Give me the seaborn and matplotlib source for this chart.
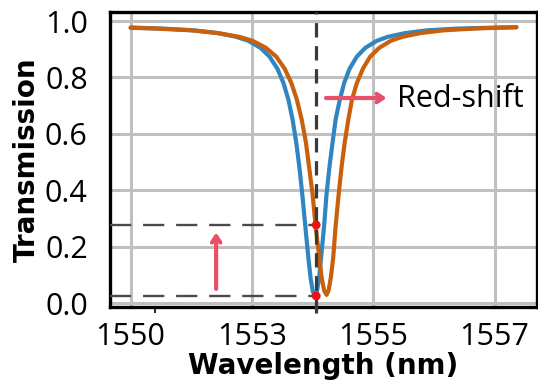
import numpy as np
import pandas as pd
import matplotlib
matplotlib.use("Agg")
import matplotlib.pyplot as plt
import seaborn as sns

# ---- data ----
blue_wl = [1551.0, 1551.54, 1552.04, 1552.44, 1552.74, 1552.94, 1553.14, 1553.29,
           1553.42, 1553.52, 1553.60, 1553.67, 1553.73, 1553.78, 1553.83, 1553.88,
           1553.93, 1553.97, 1554.005, 1554.04,
           1554.07, 1554.105, 1554.14, 1554.19, 1554.23, 1554.28, 1554.33, 1554.38,
           1554.45, 1554.52, 1554.61, 1554.73, 1554.87, 1555.06, 1555.24, 1555.52,
           1555.89, 1556.36, 1556.90, 1557.36]
blue_T = [0.977, 0.973, 0.967, 0.957, 0.944, 0.930, 0.905, 0.874,
          0.831, 0.780, 0.722, 0.651, 0.570, 0.486, 0.386, 0.273,
          0.161, 0.084, 0.040, 0.024,
          0.040, 0.084, 0.161, 0.273, 0.386, 0.486, 0.570, 0.651,
          0.722, 0.780, 0.831, 0.874, 0.905, 0.930, 0.944, 0.957,
          0.967, 0.973, 0.976, 0.978]

orange_wl = [1551.0, 1551.45, 1552.01, 1552.45, 1552.79, 1553.01, 1553.23, 1553.40,
             1553.54, 1553.65, 1553.74, 1553.82, 1553.89, 1553.94, 1554.00, 1554.05,
             1554.11, 1554.15, 1554.19, 1554.23,
             1554.264, 1554.30, 1554.34, 1554.38, 1554.43, 1554.48, 1554.53, 1554.59,
             1554.65, 1554.73, 1554.83, 1554.95, 1555.10, 1555.29, 1555.48, 1555.77,
             1556.16, 1556.64, 1557.05, 1557.36]
orange_T = [0.976, 0.973, 0.967, 0.957, 0.944, 0.930, 0.905, 0.874,
            0.831, 0.780, 0.722, 0.651, 0.570, 0.486, 0.386, 0.273,
            0.161, 0.089, 0.045, 0.029,
            0.045, 0.089, 0.161, 0.273, 0.386, 0.486, 0.570, 0.651,
            0.722, 0.780, 0.831, 0.874, 0.905, 0.930, 0.944, 0.957,
            0.967, 0.973, 0.976, 0.978]

x_ticks = [1551, 1553, 1555, 1557]
x_tick_labels = ["1550", "1553", "1555", "1557"]
y_ticks = [0.0, 0.2, 0.4, 0.6, 0.8, 1.0]
y_tick_labels = ["0.0", "0.2", "0.4", "0.6", "0.8", "1.0"]

marker_wl = 1554.06
marker_T = [0.277, 0.025]

# ---- plotting ----
sns.set_style("white")
plt.rcParams["font.family"] = ["Open Sans", "DejaVu Sans"]
plt.rcParams["text.color"] = "black"
plt.rcParams["axes.labelcolor"] = "black"
plt.rcParams["xtick.color"] = "black"
plt.rcParams["ytick.color"] = "black"

fig = plt.figure(figsize=(5.38, 3.8), dpi=100)
ax = fig.add_axes([110 / 538, 1 - 307 / 380, 427 / 538, 295 / 380])

df = pd.concat([
    pd.DataFrame({"wl": blue_wl, "T": blue_T, "s": "blue"}),
    pd.DataFrame({"wl": orange_wl, "T": orange_T, "s": "orange"}),
])
sns.lineplot(data=df, x="wl", y="T", hue="s", palette=["#2f86c0", "#c8600e"],
             linewidth=3.0, legend=False, ax=ax, sort=False, zorder=3)

ax.set_xlim(1550.66, 1557.70)
ax.set_ylim(-0.014, 1.032)

ax.set_xticks(x_ticks)
ax.set_xticklabels(x_tick_labels)
ax.set_xticks([1551.4], minor=True)
ax.set_yticks(y_ticks)
ax.set_yticklabels(y_tick_labels)

ax.grid(True, which="major", color="#c0c0c0", linewidth=2.2, zorder=0)
ax.set_axisbelow(True)

for sp in ax.spines.values():
    sp.set_color("black")
    sp.set_linewidth(2.4)
    sp.set_visible(True)

ax.tick_params(axis="both", which="major", direction="out", length=6, width=1.6,
               color="#222222", labelcolor="black", labelsize=22)
ax.tick_params(axis="x", which="major", pad=5)
ax.tick_params(axis="y", which="major", pad=10)
ax.tick_params(axis="x", which="minor", direction="out", length=4, width=1.4,
               color="#222222", bottom=True)

ax.set_xlabel("Wavelength (nm)", fontsize=20, fontweight="bold",
              family="DejaVu Sans", labelpad=0, color="black")
ax.set_ylabel("Transmission", fontsize=20, fontweight="bold",
              family="DejaVu Sans", labelpad=3, color="black")

# vertical dashed line
ax.plot([marker_wl, marker_wl], [-0.035, 1.032], color="#3a3a3a", linewidth=2.3,
        dashes=(4.5, 2.7), clip_on=False, zorder=4)
# horizontal dashed lines
for yv in marker_T:
    ax.plot([1550.66, marker_wl], [yv, yv], color="#4a4a4a", linewidth=1.7,
            dashes=(9, 5), zorder=4)
# red dots
ax.scatter([marker_wl] * len(marker_T), marker_T, s=40, color="#ee1111",
           zorder=6, edgecolors="none")

arrow_col = "#e8506a"
ax.annotate("", xy=(1555.22, 0.727), xytext=(1554.22, 0.727),
            arrowprops=dict(arrowstyle="->,head_length=0.45,head_width=0.3",
                            color=arrow_col, lw=3.0, shrinkA=0, shrinkB=0), zorder=5)
ax.annotate("", xy=(1552.41, 0.25), xytext=(1552.41, 0.05),
            arrowprops=dict(arrowstyle="->,head_length=0.45,head_width=0.3",
                            color=arrow_col, lw=3.0, shrinkA=0, shrinkB=0), zorder=5)
ax.text(1555.39, 0.722, "Red-shift", fontsize=22, va="center", ha="left",
        color="black", zorder=6)

fig.savefig("out.png", dpi=100)
